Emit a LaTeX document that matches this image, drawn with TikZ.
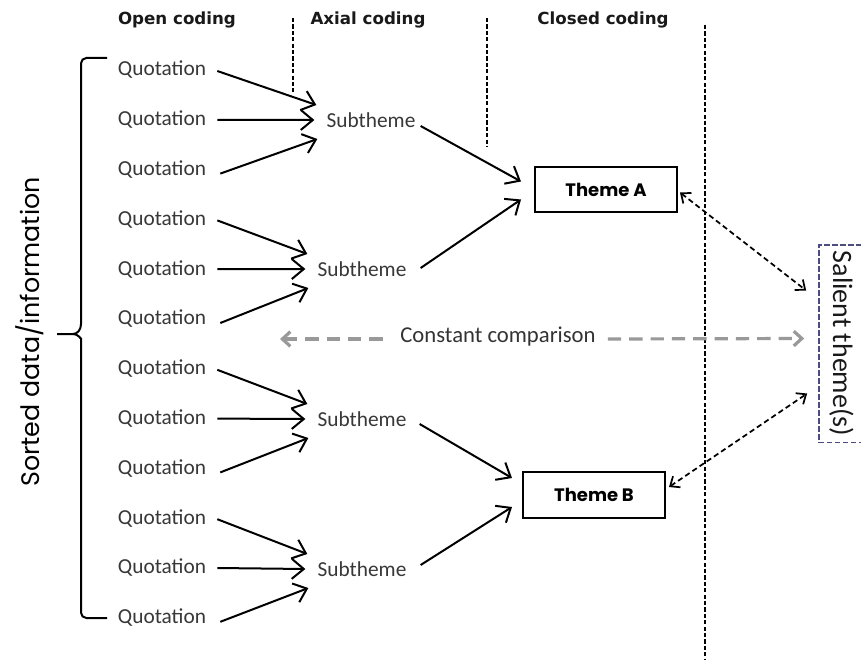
\documentclass[tikz,border=0pt]{standalone}
\usepackage{fontspec}
\setmainfont{Carlito}
\newfontfamily\popfont{Poppins}
\newfontfamily\headfont{DejaVu Sans}
\usepackage{tikz}
\usetikzlibrary{arrows.meta}

\begin{document}
\begin{tikzpicture}[x=0.75pt,y=-0.75pt,
  quote/.style={inner sep=0pt,text=black!78,font=\fontsize{16}{18}\selectfont},
  head/.style={inner sep=0pt,text=black!90,font=\headfont\bfseries\fontsize{12.5}{15}\selectfont},
  theme/.style={draw,line width=1.5pt,minimum width=106.5pt,minimum height=34pt,font=\popfont\bfseries\fontsize{13.5}{15}\selectfont},
  arr/.style={line width=1.5pt,-{Straight Barb[length=9pt,width=15pt]}},
  link/.style={line width=1.3pt,dash pattern=on 4pt off 2.5pt,{Straight Barb[length=6pt,width=10pt]}-{Straight Barb[length=6pt,width=10pt]}},
  divider/.style={line width=2pt,dash pattern=on 3.2pt off 1.6pt},
  compare/.style={black!40,line width=2.4pt,dash pattern=on 10pt off 6pt}]
\clip (0,0) rectangle (861,660);
\fill[white] (0,0) rectangle (861,660);

\node[head] (hopen) at (177,20) {Open coding};
\node[head] (haxial) at (368,20) {Axial coding};
\node[head] (hclosed) at (603,20) {Closed coding};
\draw[divider] (293,18) -- (293,92);
\draw[divider] (487,18) -- (487,147);
\draw[divider] (705,25) -- (705,662);

% quotations
\foreach \i in {1,...,12}
  \node[quote] (q\i) at (162,{70+49.8*(\i-1)}) {Quotation};

\node[quote] (s1) at (371,120) {Subtheme};
\node[quote] (s2) at (362,269) {Subtheme};
\node[quote] (s3) at (362,419) {Subtheme};
\node[quote] (s4) at (362,569) {Subtheme};

\foreach \g/\a/\b/\c in {1/1/2/3,2/4/5/6,3/7/8/9,4/10/11/12} {
  \draw[arr] ([shift={(11,1)}]q\a.east) -- ([shift={(-10,-15)}]s\g.west);
  \draw[arr] ([shift={(11,0)}]q\b.east) -- ([shift={(-12,0)}]s\g.west);
  \draw[arr] ([shift={(14,4)}]q\c.east) -- ([shift={(-9,19)}]s\g.west);
}

\node[theme] (tA) at (606,189.5) {Theme A};
\node[theme] (tB) at (594,495) {Theme B};

\draw[arr] ([shift={(5,6)}]s1.east) -- ([shift={(-13,-8)}]tA.west);
\draw[arr] ([shift={(14,-1)}]s2.east) -- ([shift={(-13,10)}]tA.west);
\draw[arr] ([shift={(13,5)}]s3.east) -- ([shift={(-10,-17)}]tB.west);
\draw[arr] ([shift={(14,-4)}]s4.east) -- ([shift={(-10,12)}]tB.west);

% rotated box, its south side faces left
\node[draw=blue!30!black!70,line width=1pt,dash pattern=on 4pt off 2pt,rotate=-90,
  minimum width=148pt,minimum height=34pt,text=black!90,font=\fontsize{21}{24}\selectfont] (sal) at (841.5,343.5) {Salient theme(s)};

\draw[link] ([shift={(2,3)}]tA.east) -- ([shift={(-12,-53)}]sal.south);
\draw[link] ([shift={(3,-8)}]tB.east) -- ([shift={(-11,50)}]sal.south);

% constant comparison
\node[inner sep=0pt,text=black!80,font=\fontsize{17}{20}\selectfont] (cc) at (498,337) {Constant comparison};
\coordinate (ccL) at (280,339);
\draw[compare,{Straight Barb[length=6pt,width=11pt]}-] (ccL) -- ([shift={(-10,2)}]cc.west);
\draw[compare,-{Straight Barb[length=6pt,width=11pt]}] ([shift={(12,2)}]cc.east) -- ([shift={(-14,-5)}]sal.south);

% bracket
\draw[line width=1.5pt,rounded corners=4pt] (107,58) -- (81,58) -- (81,324);
\draw[line width=1.5pt] (81,324) to[out=-90,in=0] (73,334) -- (57,334);
\draw[line width=1.5pt,rounded corners=4pt] (73,334) to[out=0,in=90] (81,344) -- (81,618) -- (107,618);
\node[rotate=90,font=\popfont\fontsize{19}{22}\selectfont] (sorted) at (30,332) {Sorted data/information};
\end{tikzpicture}
\end{document}
